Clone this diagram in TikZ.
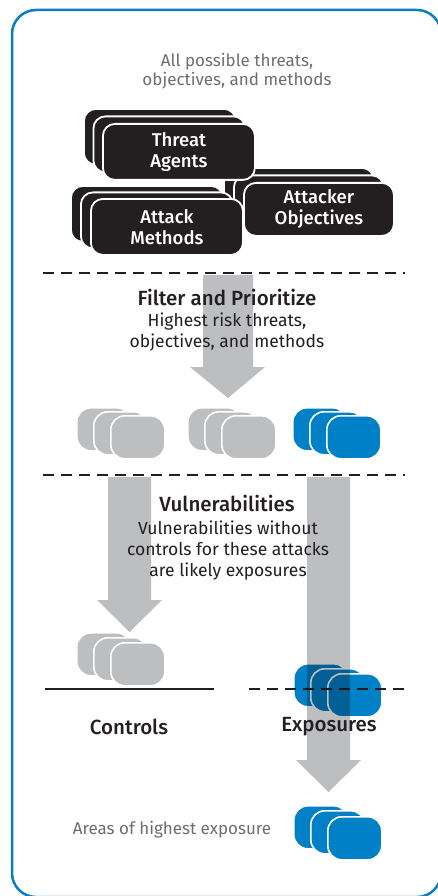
\documentclass[tikz,border=0pt]{standalone}
\usepackage{fontspec}
\setmainfont{Fira Sans}[BoldFont={Fira Sans Medium}]
\definecolor{frameblue}{HTML}{0A7EC4}
\definecolor{cardblue}{HTML}{0080C6}
\definecolor{cardblack}{HTML}{231F20}
\definecolor{arrowgray}{HTML}{BCBEC0}
\definecolor{textgray}{HTML}{6D6E71}
\definecolor{inkblack}{HTML}{231F20}
\tikzset{
  bigcard/.style={anchor=north west, fill=cardblack, draw=white, line width=1.8pt,
    rounded corners=12pt, minimum width=152pt, minimum height=56pt, inner sep=0pt,
    text=white, align=center, font=\bfseries\fontsize{18.5}{21}\selectfont},
  smallcard/.style={anchor=north west, draw=white, line width=1.6pt,
    rounded corners=14pt, minimum width=54pt, minimum height=43pt, inner sep=0pt},
  graycard/.style={smallcard, fill=arrowgray},
  bluecard/.style={smallcard, fill=cardblue},
  divider/.style={draw=inkblack, line width=2.2pt, dash pattern=on 11pt off 7pt},
  title/.style={text=inkblack, font=\bfseries\fontsize{20.5}{24}\selectfont},
  body/.style={text=inkblack, align=center, font=\fontsize{17.5}{21}\selectfont},
  note/.style={text=textgray, align=center, font=\fontsize{17}{18.5}\selectfont},
  blockarrow/.style={fill=arrowgray}
}
\begin{document}
\begin{tikzpicture}[x=1pt,y=-1pt]
\useasboundingbox (0,0) rectangle (438,896);
\fill[white] (0,0) rectangle (438,896);
\begin{scope}
  \clip (0,0) rectangle (438,896);
  \draw[frameblue, line width=2.5pt, rounded corners=24pt] (12,10) rectangle (441,897);
\end{scope}

% top caption
\node[note] (allposs) at (237,71) {All possible threats,\\objectives, and methods};

% Attacker Objectives stack (behind)
\node[bigcard, minimum width=150pt, minimum height=53pt] (ao1) at (223,167) {};
\node[bigcard, minimum width=150pt, minimum height=53pt] (ao2) at (233,174.5) {};
\node[bigcard, minimum width=150pt, minimum height=53pt] (ao) at (243,182) {Attacker\\Objectives};
% Threat Agents stack
\node[bigcard] (ta1) at (83,108) {};
\node[bigcard] (ta2) at (92.5,115.5) {};
\node[bigcard] (ta) at (102,123) {Threat\\Agents};
% Attack Methods stack
\node[bigcard] (am1) at (70,185) {};
\node[bigcard] (am2) at (80,191.5) {};
\node[bigcard] (am) at (90,198) {Attack\\Methods};

% divider 1
\coordinate (d1l) at (43,273);
\coordinate (d1r) at (405,273);
\draw[divider] (d1l) -- (d1r);

% arrow 1
\fill[blockarrow] (203,275) -- (253,275) -- (253,367) -- (265,367) -- (228,398) -- (190,367) -- (203,367) -- cycle;
\node[title] (filter) at (227,297) {Filter and Prioritize};
\node[body] (highest) at (227,332.5) {Highest risk threats,\\objectives, and methods};

% row of small stacks
\node[graycard] (sa1) at (76,407) {};
\node[graycard] (sa2) at (93,411) {};
\node[graycard] (sa) at (110,415) {};
\node[graycard] (sb1) at (187,407) {};
\node[graycard] (sb2) at (204,411) {};
\node[graycard] (sb) at (221,415) {};
\node[bluecard] (sc1) at (292,407) {};
\node[bluecard] (sc2) at (309,411) {};
\node[bluecard] (sc) at (326,415) {};

% divider 2
\coordinate (d2l) at (43,475);
\coordinate (d2r) at (405,475);
\draw[divider] (d2l) -- (d2r);

% Controls stack
\node[graycard] (ct1) at (76,632) {};
\node[graycard] (ct2) at (93,637) {};
\node[graycard] (ct) at (110,642) {};
% Exposures stack
\node[bluecard] (ex1) at (293,663) {};
\node[bluecard] (ex2) at (310,668) {};
\node[bluecard] (ex) at (327,673) {};

% controls / exposures lines
\coordinate (cl) at (45,689);
\coordinate (cr) at (214,689);
\draw[inkblack, line width=2.2pt] (cl) -- (cr);
\coordinate (el) at (249,689);
\coordinate (er) at (404,689);
\draw[divider] (el) -- (er);

% arrow 2
\fill[blockarrow] (108,477) -- (151,477) -- (151,600) -- (162,600) -- (129.5,632) -- (97,600) -- (108,600) -- cycle;
% arrow 3 (multiplied over the exposures stack)
\begin{scope}[blend mode=multiply]
\fill[blockarrow] (307,477) -- (350,477) -- (350,760) -- (361,760) -- (328.5,792) -- (296,760) -- (307,760) -- cycle;
\end{scope}

\node[title] (vuln) at (227,503) {Vulnerabilities};
\node[body] (vulntext) at (228,551) {Vulnerabilities without\\controls for these attacks\\are likely exposures};

\node[title] (controls) at (129,727) {Controls};
\node[title] (exposures) at (329,727) {Exposures};

% bottom stack
\node[bluecard] (hx1) at (293,805) {};
\node[bluecard] (hx2) at (310,810) {};
\node[bluecard] (hx) at (327,816) {};
\node[note] (areas) at (172,830) {Areas of highest exposure};
\end{tikzpicture}
\end{document}
